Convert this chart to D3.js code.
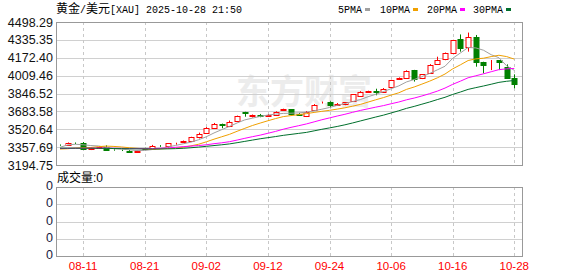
<!DOCTYPE html>
<html><head><meta charset="utf-8">
<script src="https://cdn.jsdelivr.net/npm/d3@7"></script>
<style>body{margin:0;background:#fff}svg{display:block}</style>
</head><body>
<svg id="c" width="578" height="276"></svg>
<script>
const dates = ["08-06","08-07","08-08","08-11","08-12","08-13","08-14","08-15","08-18","08-19","08-20","08-21","08-22","08-25","08-26","08-27","08-28","08-29",
"09-01","09-02","09-03","09-04","09-05","09-08","09-09","09-10","09-11","09-12","09-15","09-16","09-17","09-18","09-19","09-22","09-23","09-24","09-25","09-26","09-29","09-30",
"10-01","10-02","10-03","10-06","10-07","10-08","10-09","10-10","10-13","10-14","10-15","10-16","10-17","10-20","10-21","10-22","10-23","10-24","10-27","10-28"];
const open  = [3378,3376,3399,3398,3345,3348,3356,3330,3331,3324,3313,3346,3340,3370,3366,3392,3402,3413,3446,3484,3535,3570,3550,3600,3678,3640,3648,3642,3650,3696,3702,3661,3638,3696,3765,3770,3744,3748,3778,3828,3862,3868,3864,3905,3977,3991,4058,3992,4032,4116,4160,4218,4340,4272,4362,4132,4120,4148,4090,3985];
const high  = [3382,3400,3400,3404,3356,3368,3374,3338,3335,3332,3328,3352,3378,3376,3395,3398,3418,3452,3490,3540,3578,3572,3600,3645,3680,3655,3660,3658,3684,3708,3705,3668,3686,3750,3773,3775,3760,3768,3840,3868,3872,3890,3896,3972,3993,4058,4062,4024,4114,4182,4220,4336,4385,4402,4380,4136,4152,4150,4112,4021];
const low   = [3370,3372,3385,3343,3331,3345,3332,3325,3322,3312,3306,3334,3336,3360,3352,3380,3396,3408,3437,3478,3530,3530,3540,3590,3635,3628,3630,3635,3643,3690,3650,3645,3632,3690,3755,3720,3735,3740,3772,3820,3855,3830,3858,3898,3970,3986,3955,3978,4028,4110,4150,4212,4228,4228,4091,4030,4060,4060,3985,3894];
const close = [3375,3396,3396,3345,3349,3356,3336,3328,3328,3315,3325,3339,3372,3365,3393,3397,3412,3447,3476,3530,3570,3562,3590,3640,3670,3648,3640,3652,3680,3703,3660,3655,3682,3746,3771,3741,3752,3765,3838,3860,3868,3862,3890,3968,3990,4048,3975,4020,4110,4156,4216,4332,4265,4362,4136,4108,4128,4132,3992,3930];
const ma5  = [3356,3378,3384,3379,3372,3368,3356,3343,3339,3333,3326,3327,3336,3343,3359,3373,3388,3403,3425,3452,3487,3517,3546,3578,3606,3622,3638,3650,3658,3665,3667,3670,3676,3689,3703,3719,3738,3755,3773,3791,3817,3839,3864,3890,3916,3952,3974,4000,4029,4062,4095,4167,4216,4266,4262,4241,4200,4173,4099,4058];
const ma10 = [3340,3343,3349,3352,3354,3362,3367,3364,3359,3352,3347,3342,3339,3341,3346,3350,3357,3369,3384,3406,3430,3452,3474,3502,3529,3555,3577,3598,3618,3636,3645,3654,3663,3674,3684,3693,3704,3716,3731,3747,3768,3789,3809,3832,3853,3884,3906,3932,3959,3989,4024,4071,4108,4147,4162,4168,4183,4195,4183,4160];
const ma20 = [3345,3346,3347,3347,3348,3349,3348,3347,3346,3345,3344,3343,3344,3347,3350,3356,3362,3367,3372,3379,3389,3397,3407,3422,3438,3453,3467,3484,3501,3521,3538,3553,3569,3588,3607,3624,3641,3657,3675,3692,3707,3722,3736,3753,3769,3789,3805,3824,3845,3868,3896,3930,3959,3990,4008,4026,4045,4064,4071,4075];
const ma30 = [3348,3348,3348,3348,3348,3347,3346,3345,3344,3343,3342,3341,3341,3341,3342,3344,3347,3352,3358,3365,3372,3379,3387,3398,3410,3422,3434,3444,3454,3465,3474,3483,3492,3506,3520,3533,3546,3561,3578,3596,3614,3632,3649,3669,3689,3711,3729,3749,3769,3791,3812,3838,3860,3884,3900,3915,3931,3948,3958,3965];
const yTicks = [3194.75,3357.69,3520.64,3683.58,3846.52,4009.46,4172.40,4335.35,4498.29];
const xTickDates = ["08-11","08-21","09-02","09-12","09-24","10-06","10-16","10-28"];
const volTicks = [0,1,2,3,4];
const volTickLabels = ["0","0","0","0","0"];
const maNames = ["5PMA","10PMA","20PMA","30PMA"];
const maColors = ["#a0a0a0","#f0a000","#ff00ff","#006f2c"];

const svg = d3.select("#c");
const L = 56, R = 522, T = 22, B = 165, VT = 187, VB = 256;
const x = d3.scalePoint().domain(dates).range([60, 514.3]);
const y = d3.scaleLinear().domain([yTicks[0], yTicks[yTicks.length-1]]).range([B, T]);
const yv = d3.scaleLinear().domain([0, 4]).range([VB, VT]);
const px = v => Math.round(v) + 0.5;

// title
const title = svg.append("text").attr("x", 56).attr("y", 13).attr("fill", "#000");
title.append("tspan").style("font", "12px 'Noto Sans CJK SC'").text("黄金");
title.append("tspan").style("font", "10px 'Liberation Mono'").text("/");
title.append("tspan").style("font", "12px 'Noto Sans CJK SC'").text("美元");
title.append("tspan").style("font", "10px 'Liberation Mono'").text("[XAU] 2025-10-28 21:50");

// legend
const legX = [338, 380, 427, 473];
maNames.forEach((n, i) => {
  const w = n.length * 6;
  svg.append("text").attr("x", legX[i]).attr("y", 13).style("font", "10px 'Liberation Mono'").attr("fill", "#000").text(n);
  svg.append("rect").attr("x", legX[i] + w + 3).attr("y", 8).attr("width", 5).attr("height", 3).attr("fill", maColors[i]);
});

// watermark
svg.append("text").attr("x", 236).attr("y", 104).style("font", "bold 34px 'Noto Sans CJK SC'").attr("fill", "#ececec").text("东方财富");

// main grid
const gMain = svg.append("g");
gMain.selectAll("line.h").data(yTicks).join("line")
  .attr("x1", L).attr("x2", R).attr("y1", d => px(y(d))).attr("y2", d => px(y(d)))
  .attr("stroke", "#d0d0d0");
[[T, B], [VT, VB]].forEach(([a, b]) => {
  svg.append("g").selectAll("line").data(xTickDates).join("line")
    .attr("x1", d => px(x(d))).attr("x2", d => px(x(d))).attr("y1", a).attr("y2", b)
    .attr("stroke", "#c8c8c8").attr("stroke-dasharray", "3,3");
});
// volume grid
svg.append("g").selectAll("line").data(volTicks).join("line")
  .attr("x1", L).attr("x2", R).attr("y1", d => px(yv(d))).attr("y2", d => px(yv(d)))
  .attr("stroke", "#d0d0d0");

// candles
const idx = d3.range(dates.length);
const gc = svg.append("g");
idx.forEach(i => {
  const up = close[i] >= open[i];
  const col = up ? "#ff0000" : "#008000";
  const cx = px(x(dates[i]));
  gc.append("line").attr("x1", cx).attr("x2", cx).attr("y1", y(high[i])).attr("y2", y(low[i])).attr("stroke", col);
  const top = Math.round(y(Math.max(open[i], close[i])));
  const bot = Math.round(y(Math.min(open[i], close[i])));
  gc.append("rect").attr("x", cx - 2.5).attr("y", top + 0.5).attr("width", 5).attr("height", Math.max(0, bot - top))
    .attr("fill", up ? "#fff" : col).attr("stroke", col);
});

// MA lines
[ma5, ma10, ma20, ma30].forEach((arr, k) => {
  svg.append("path").datum(idx)
    .attr("d", d3.line().x(i => x(dates[i])).y(i => y(arr[i])))
    .attr("fill", "none").attr("stroke", maColors[k]).attr("stroke-width", 1);
});

// frames
svg.append("rect").attr("x", L + 0.5).attr("y", T + 0.5).attr("width", R - L).attr("height", B - T).attr("fill", "none").attr("stroke", "#999");
svg.append("rect").attr("x", L + 0.5).attr("y", VT + 0.5).attr("width", R - L).attr("height", VB - VT).attr("fill", "none").attr("stroke", "#999");

// y labels
svg.append("g").selectAll("text").data(yTicks).join("text")
  .attr("x", 53).attr("y", d => y(d)).attr("dy", "0.36em").attr("text-anchor", "end")
  .style("font", "12.5px 'Liberation Sans'").attr("fill", "#111").text(d => d.toFixed(2));
svg.append("g").selectAll("text").data(volTicks).join("text")
  .attr("x", 53).attr("y", d => yv(d) - 1.5).attr("dy", "0.36em").attr("text-anchor", "end")
  .style("font", "12.5px 'Liberation Sans'").attr("fill", "#1a1a40").text((d, i) => volTickLabels[i]);

// volume label
const vl = svg.append("text").attr("x", 57).attr("y", 182).attr("fill", "#000");
vl.append("tspan").style("font", "12px 'Noto Sans CJK SC'").text("成交量");
vl.append("tspan").style("font", "12px 'Liberation Sans'").text(":0");

// x labels
svg.append("g").selectAll("text").data(xTickDates).join("text")
  .attr("x", d => x(d)).attr("y", 270).attr("text-anchor", "middle")
  .style("font", "11.5px 'Liberation Sans'").attr("fill", "#ff0000").text(d => d);
</script>
</body></html>
